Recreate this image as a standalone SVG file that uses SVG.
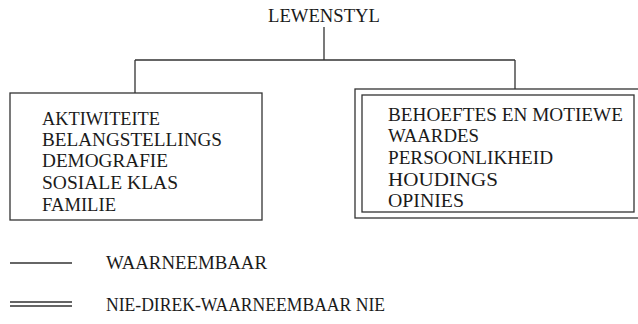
<svg xmlns="http://www.w3.org/2000/svg" width="638" height="324" viewBox="0 0 638 324">
<style>
text{font-family:"Liberation Serif","DejaVu Serif",serif;font-size:18.5px;fill:#1a1a1a}
.ln{stroke:#333;stroke-width:1.3;fill:none}
</style>
<rect width="638" height="324" fill="#fff"/>
<g id="lewenstyl"><text x="324" y="22" text-anchor="middle" textLength="112" lengthAdjust="spacingAndGlyphs">LEWENSTYL</text></g>
<g id="connectors">
<path class="ln" d="M324,27 V60 M135,60 H515 M135,60 V93 M515,60 V89"/>
</g>
<g id="waarneembaar-box">
<rect class="ln" x="10" y="93" width="252" height="127"/>
<text x="42" y="125" textLength="118" lengthAdjust="spacingAndGlyphs">AKTIWITEITE</text>
<text x="42" y="146" textLength="180" lengthAdjust="spacingAndGlyphs">BELANGSTELLINGS</text>
<text x="42" y="167" textLength="126" lengthAdjust="spacingAndGlyphs">DEMOGRAFIE</text>
<text x="42" y="189" textLength="136" lengthAdjust="spacingAndGlyphs">SOSIALE KLAS</text>
<text x="42" y="211" textLength="74" lengthAdjust="spacingAndGlyphs">FAMILIE</text>
</g>
<g id="nie-waarneembaar-box">
<rect class="ln" x="355" y="89" width="286" height="129"/>
<rect class="ln" x="362" y="95" width="272" height="117"/>
<text x="388" y="121" textLength="235" lengthAdjust="spacingAndGlyphs">BEHOEFTES EN MOTIEWE</text>
<text x="388" y="142" textLength="91" lengthAdjust="spacingAndGlyphs">WAARDES</text>
<text x="388" y="164" textLength="165" lengthAdjust="spacingAndGlyphs">PERSOONLIKHEID</text>
<text x="388" y="186" textLength="110" lengthAdjust="spacingAndGlyphs">HOUDINGS</text>
<text x="388" y="207" textLength="76" lengthAdjust="spacingAndGlyphs">OPINIES</text>
</g>
<g id="legend-solid">
<path class="ln" d="M10,263 H72"/>
<text x="106" y="269" textLength="161" lengthAdjust="spacingAndGlyphs">WAARNEEMBAAR</text>
</g>
<g id="legend-double">
<path class="ln" d="M10,302 H72 M10,306 H72"/>
<text x="106" y="311" textLength="279" lengthAdjust="spacingAndGlyphs">NIE-DIREK-WAARNEEMBAAR NIE</text>
</g>
</svg>
